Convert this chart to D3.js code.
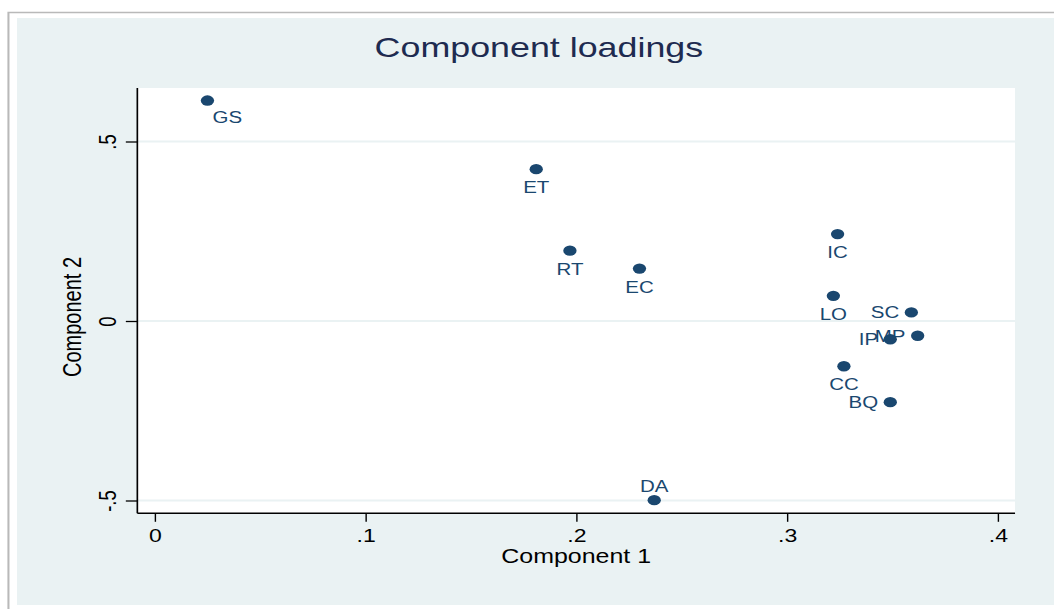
<!DOCTYPE html>
<html>
<head>
<meta charset="utf-8">
<script src="https://cdnjs.cloudflare.com/ajax/libs/d3/7.8.5/d3.min.js"></script>
<style>
  html, body { margin: 0; padding: 0; background: #fff; }
  text { font-family: 'Liberation Sans', Arial, Helvetica, sans-serif; }
</style>
</head>
<body>
<div class="chart"></div>
<script>
// loadings
var labels = ['GS', 'ET', 'RT', 'EC', 'IC', 'LO', 'SC', 'MP', 'IP', 'CC', 'BQ', 'DA']
var comp1 = [0.025, 0.181, 0.197, 0.230, 0.324, 0.322, 0.359, 0.362, 0.349, 0.327, 0.349, 0.237]
var comp2 = [0.614, 0.423, 0.196, 0.146, 0.242, 0.070, 0.024, -0.041, -0.051, -0.126, -0.226, -0.499]
// marker label clock positions (stata style)
var labelPos = [5, 6, 6, 6, 6, 6, 9, 9, 9, 6, 9, 12]
var xTicks = [0, 0.1, 0.2, 0.3, 0.4]
var yTicks = [-0.5, 0, 0.5]

var W = 1054, H = 609
var SX = 1.28 // the picture is stretched sideways, draw in narrow units and scale
var LW = W / SX

var navy = '#1a476f'
var bg = '#eaf2f3'

var plot = { left: 107.3, right: 793, top: 88, bottom: 513.3 }

var x = d3.scaleLinear().domain([0, 0.4]).range([120.9, 779.5])
var y = d3.scaleLinear().domain([-0.5, 0.5]).range([500.5, 141.5])

function fmt (d) {
  return d === 0 ? '0' : String(d).replace('0.', '.')
}

var svg = d3.select('.chart')
  .append('svg')
    .attr('width', W)
    .attr('height', H)

var g = svg.append('g').attr('transform', `scale(${SX},1)`)

// outer frame
g.append('path')
  .attr('d', `M6.6,${H} V12.5 H${LW}`)
  .style('fill', 'none')
  .style('stroke', '#b9b9b9')
  .style('stroke-width', 1.6)

g.append('rect')
  .attr('x', 13.3)
  .attr('y', 18)
  .attr('width', LW - 13.3)
  .attr('height', 605 - 18)
  .style('fill', bg)

g.append('rect')
  .attr('x', plot.left)
  .attr('y', plot.top)
  .attr('width', plot.right - plot.left)
  .attr('height', plot.bottom - plot.top)
  .style('fill', '#fff')

// gridlines
g.selectAll('.grid')
  .data(yTicks)
  .enter()
    .append('line')
    .attr('x1', plot.left)
    .attr('x2', plot.right)
    .attr('y1', d => y(d))
    .attr('y2', d => y(d))
    .style('stroke', bg)
    .style('stroke-width', 2)

// x axis
var xAxis = g.append('g')
  .attr('transform', `translate(0,${plot.bottom})`)
  .call(d3.axisBottom(x).tickValues(xTicks).tickFormat(fmt).tickSize(8.5).tickPadding(7))
xAxis.select('.domain').attr('d', `M${plot.left},0H${plot.right}`).style('stroke', '#000').style('stroke-width', 1.5)
xAxis.selectAll('.tick line').style('stroke', '#000').style('stroke-width', 1.1)
xAxis.selectAll('.tick text')
  .attr('font-size', 18)
  .attr('font-family', 'Liberation Sans, Arial, sans-serif')
  .style('fill', '#000')

// y axis
var yAxis = g.append('g')
  .attr('transform', `translate(${plot.left},0)`)
  .call(d3.axisLeft(y).tickValues(yTicks).tickFormat(fmt).tickSize(9))
yAxis.select('.domain').attr('d', `M0,${plot.top}V${plot.bottom}`).style('stroke', '#000').style('stroke-width', 1.3)
yAxis.selectAll('.tick line').style('stroke', '#000').style('stroke-width', 1.3)
yAxis.selectAll('.tick text')
  .attr('x', null)
  .attr('dy', null)
  .attr('font-size', 18.5)
  .attr('font-family', 'Liberation Sans, Arial, sans-serif')
  .attr('text-anchor', 'middle')
  .attr('transform', 'translate(-16.4,0) rotate(-90)')
  .attr('y', 0)
  .style('fill', '#000')

// titles
g.append('text')
  .attr('x', 421)
  .attr('y', 57)
  .attr('text-anchor', 'middle')
  .attr('font-size', 28)
  .style('fill', '#1e2b50')
  .text('Component loadings')

g.append('text')
  .attr('x', (plot.left + plot.right) / 2)
  .attr('y', 563)
  .attr('text-anchor', 'middle')
  .attr('font-size', 19.5)
  .style('fill', '#000')
  .text('Component 1')

g.append('text')
  .attr('transform', `translate(63.5,317) rotate(-90)`)
  .attr('text-anchor', 'middle')
  .attr('font-size', 20)
  .style('fill', '#000')
  .text('Component 2')

// points
var pts = g.selectAll('.pt')
  .data(labels)
  .enter()
    .append('g')
    .attr('transform', (d, i) => `translate(${x(comp1[i])},${y(comp2[i])})`)

pts.append('circle')
  .attr('r', 5.2)
  .style('fill', navy)

var offsets = {
  5: { dx: 4, dy: 22, anchor: 'start' },
  6: { dx: 0, dy: 24, anchor: 'middle' },
  9: { dx: -9.5, dy: 6, anchor: 'end' },
  12: { dx: 0, dy: -8, anchor: 'middle' }
}

pts.append('text')
  .attr('x', (d, i) => offsets[labelPos[i]].dx)
  .attr('y', (d, i) => offsets[labelPos[i]].dy)
  .attr('text-anchor', (d, i) => offsets[labelPos[i]].anchor)
  .attr('font-size', 16)
  .style('fill', navy)
  .text(d => d)
</script>
</body>
</html>
